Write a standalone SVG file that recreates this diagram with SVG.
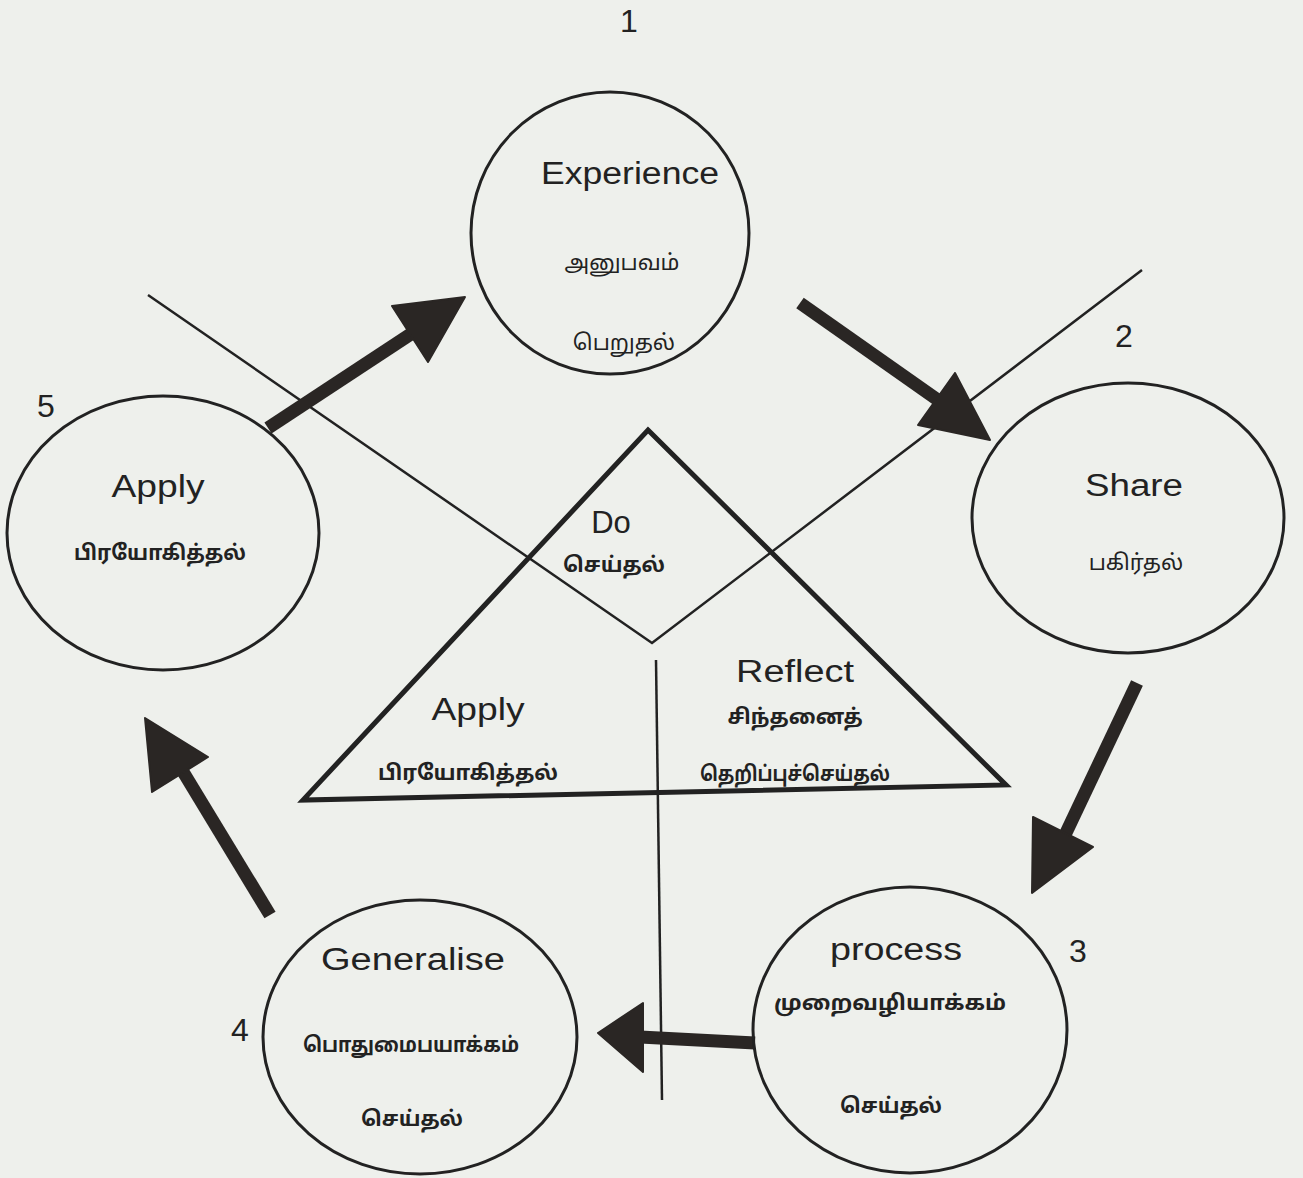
<svg xmlns="http://www.w3.org/2000/svg" width="1303" height="1178" viewBox="0 0 1303 1178">
<style>
.bg{fill:#eef0ec}
.node{fill:none;stroke:#222;stroke-width:3}
.en{font-family:"Liberation Sans",Arial,sans-serif;font-size:31px;fill:#222;text-anchor:middle}
.ta{font-family:"Noto Sans Tamil","Lohit Tamil","Noto Sans","Liberation Sans",sans-serif;font-size:21px;font-weight:bold;fill:#222;text-anchor:middle}
.tl{font-weight:normal;font-size:22px}
.num{font-family:"Liberation Sans",Arial,sans-serif;font-size:32px;fill:#222;text-anchor:middle}
.thin{fill:none;stroke:#222;stroke-width:2.5}
.shaft{stroke:#2a2624;stroke-width:13;stroke-linecap:butt}
.head{fill:#2a2624;stroke:#2a2624;stroke-width:2;stroke-linejoin:round}
.tri{fill:none;stroke:#222;stroke-width:5;stroke-linejoin:miter}
</style>
<rect class="bg" x="0" y="0" width="1303" height="1178"/>

<g id="numbers">
<text class="num" x="629" y="32">1</text>
<text class="num" x="1124" y="347">2</text>
<text class="num" x="1078" y="962">3</text>
<text class="num" x="240" y="1041">4</text>
<text class="num" x="46" y="417">5</text>
</g>

<g id="connectors">
<polyline class="thin" points="148,295 652,643 1142,270"/>
<line class="thin" x1="656" y1="660" x2="662" y2="1100"/>
<line class="shaft" x1="268" y1="428" x2="420" y2="328"/>
<polygon class="head" points="465,297 392,306 428,362"/>
<line class="shaft" x1="800" y1="303" x2="945" y2="405"/>
<polygon class="head" points="990,440 955,373 918,425"/>
<line class="shaft" x1="1137" y1="683" x2="1065" y2="835"/>
<polygon class="head" points="1032,893 1033,817 1093,847"/>
<line class="shaft" x1="755" y1="1043" x2="640" y2="1037"/>
<polygon class="head" points="598,1033 643,1003 643,1072"/>
<line class="shaft" x1="270" y1="915" x2="182" y2="770"/>
<polygon class="head" points="145,718 208,757 152,792"/>
</g>

<g id="experience">
<ellipse class="node" cx="610" cy="233" rx="139" ry="141"/>
<text class="en" x="630" y="184" textLength="178" lengthAdjust="spacingAndGlyphs">Experience</text>
<text class="ta tl" x="622" y="270">அனுபவம்</text>
<text class="ta tl" x="624" y="350">பெறுதல்</text>
</g>

<g id="share">
<ellipse class="node" cx="1128" cy="518" rx="156" ry="135"/>
<text class="en" x="1134" y="496" textLength="98" lengthAdjust="spacingAndGlyphs">Share</text>
<text class="ta tl" x="1136" y="570">பகிர்தல்</text>
</g>

<g id="process">
<ellipse class="node" cx="910" cy="1030" rx="157" ry="143"/>
<text class="en" x="896" y="960" textLength="132" lengthAdjust="spacingAndGlyphs">process</text>
<text class="ta" x="890" y="1010" textLength="232" lengthAdjust="spacingAndGlyphs">முறைவழியாக்கம்</text>
<text class="ta" x="891" y="1113">செய்தல்</text>
</g>

<g id="generalise">
<ellipse class="node" cx="420" cy="1037" rx="157" ry="137"/>
<text class="en" x="413" y="970" textLength="184" lengthAdjust="spacingAndGlyphs">Generalise</text>
<text class="ta" x="411" y="1052" textLength="216" lengthAdjust="spacingAndGlyphs">பொதுமைபயாக்கம்</text>
<text class="ta" x="412" y="1126">செய்தல்</text>
</g>

<g id="apply">
<ellipse class="node" cx="163" cy="533" rx="156" ry="137"/>
<text class="en" x="158" y="497" textLength="93" lengthAdjust="spacingAndGlyphs">Apply</text>
<text class="ta" x="160" y="560" textLength="172" lengthAdjust="spacingAndGlyphs">பிரயோகித்தல்</text>
</g>

<g id="do-triangle">
<polygon class="tri" points="648,430 1006,785 303,800"/>
<text class="en" x="611" y="533">Do</text>
<text class="ta" x="614" y="572">செய்தல்</text>
<text class="en" x="478" y="720" textLength="93" lengthAdjust="spacingAndGlyphs">Apply</text>
<text class="ta" x="468" y="780" textLength="180" lengthAdjust="spacingAndGlyphs">பிரயோகித்தல்</text>
<text class="en" x="795" y="682" textLength="118" lengthAdjust="spacingAndGlyphs">Reflect</text>
<text class="ta" x="795" y="724">சிந்தனைத்</text>
<text class="ta" x="795" y="781" textLength="190" lengthAdjust="spacingAndGlyphs">தெறிப்புச்செய்தல்</text>
</g>
</svg>
